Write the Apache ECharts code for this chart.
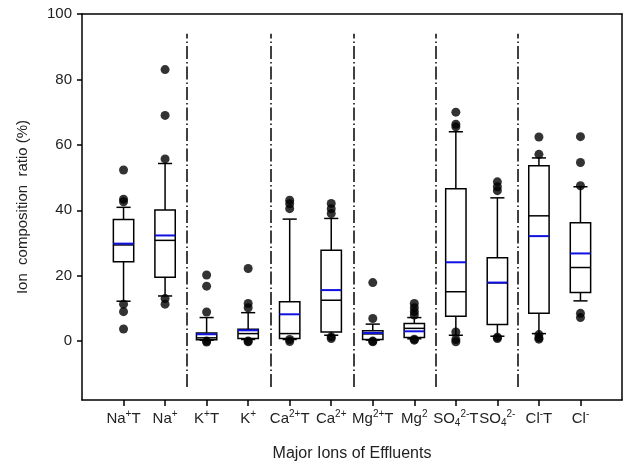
<!DOCTYPE html>
<html>
<head>
<meta charset="utf-8">
<script src="https://cdn.jsdelivr.net/npm/echarts@6/dist/echarts.min.js"></script>
<style>
  html, body { margin: 0; padding: 0; background: #fff; }
  #chart { width: 624px; height: 465px; }
</style>
</head>
<body>
<div id="chart"></div>
<script>
// categories (rich-text markup for superscripts / subscripts)
var ionLabels = [
    '{n|Na}{sup|+}{n|T}', '{n|Na}{sup|+}', '{n|K}{sup|+}{n|T}', '{n|K}{sup|+}',
    '{n|Ca}{sup|2+}{n|T}', '{n|Ca}{sup|2+}', '{n|Mg}{sup|2+}{n|T}', '{n|Mg}{sup|2}',
    '{n|SO}{sub|4}{sup|2-}{n|T}', '{n|SO}{sub|4}{sup|2-}', '{n|Cl}{sup|-}{n|T}', '{n|Cl}{sup|-}'
];
var yTicks = [0, 20, 40, 60, 80, 100];

// box statistics
var whiskerLow  = [12.2, 13.8, 0.3, 0.5, 0.5, 1.8, 0.3, 0.7, 1.8, 1.5, 2.3, 12.3];
var q1          = [24.3, 19.5, 0.4, 0.8, 0.8, 2.8, 0.5, 1.1, 7.6, 5.1, 8.5, 14.9];
var median      = [29.4, 30.8, 1.0, 2.3, 2.3, 12.5, 2.2, 3.9, 15.1, 17.8, 38.3, 22.5];
var q3          = [37.2, 40.1, 2.5, 3.6, 12.0, 27.8, 3.2, 5.4, 46.6, 25.5, 53.6, 36.2];
var whiskerHigh = [40.9, 54.3, 7.2, 8.7, 37.3, 37.5, 5.2, 7.2, 64.0, 43.8, 56.0, 47.2];
var mean        = [29.8, 32.3, 2.1, 3.3, 8.2, 15.6, 2.5, 3.0, 24.1, 17.9, 32.1, 26.8];
var outliers = [
    [52.3, 43.4, 42.6, 11.3, 9.0, 3.7],
    [83.0, 69.0, 55.7, 13.0, 11.3],
    [20.2, 16.8, 8.9, 0.0, -0.3],
    [22.2, 11.5, 10.2, 0.0, -0.2],
    [43.1, 42.0, 40.5, 0.5, -0.1],
    [42.1, 40.5, 39.0, 1.3, 0.8],
    [17.9, 6.9, 0.0, -0.2],
    [11.5, 10.2, 9.0, 8.0, 0.6, 0.3],
    [70.0, 66.3, 65.5, 2.8, 0.5, -0.2],
    [48.7, 47.2, 46.0, 1.2, 0.8],
    [62.4, 57.1, 2.0, 1.0, 0.6],
    [62.5, 54.6, 47.5, 8.5, 7.2]
];
// dash-dot separators between groups
var separatorX = [2.53, 4.54, 6.55, 8.52, 10.5];
var separatorSpan = [-14, 94];

var chart = echarts.init(document.getElementById('chart'));

var boxData = [];
var scatterData = [];
var xTicks = [];
for (var i = 0; i < ionLabels.length; i++) {
    xTicks.push(i + 1);
    boxData.push([i + 1, whiskerLow[i], q1[i], median[i], q3[i], whiskerHigh[i], mean[i]]);
    outliers[i].forEach(function (v) { scatterData.push([i + 1, v]); });
}
var sepData = separatorX.map(function (x) {
    return { coords: [[x, separatorSpan[0]], [x, separatorSpan[1]]] };
});

function renderBox(params, api) {
    var x = api.value(0);
    var pLow = api.coord([x, api.value(1)]);
    var pQ1 = api.coord([x, api.value(2)]);
    var pMed = api.coord([x, api.value(3)]);
    var pQ3 = api.coord([x, api.value(4)]);
    var pHigh = api.coord([x, api.value(5)]);
    var pMean = api.coord([x, api.value(6)]);
    var half = api.size([0.49, 0])[0] / 2;
    var cap = api.size([0.34, 0])[0] / 2;
    var cx = pQ1[0];
    var blk = { stroke: '#000', lineWidth: 1.5 };
    return {
        type: 'group',
        children: [
            { type: 'line', shape: { x1: cx, y1: pQ3[1], x2: cx, y2: pHigh[1] }, style: blk },
            { type: 'line', shape: { x1: cx - cap, y1: pHigh[1], x2: cx + cap, y2: pHigh[1] }, style: blk },
            { type: 'line', shape: { x1: cx, y1: pQ1[1], x2: cx, y2: pLow[1] }, style: blk },
            { type: 'line', shape: { x1: cx - cap, y1: pLow[1], x2: cx + cap, y2: pLow[1] }, style: blk },
            { type: 'rect', shape: { x: cx - half, y: pQ3[1], width: half * 2, height: pQ1[1] - pQ3[1] },
              style: { fill: '#fff', stroke: '#000', lineWidth: 1.5 } },
            { type: 'line', shape: { x1: cx - half, y1: pMed[1], x2: cx + half, y2: pMed[1] }, style: blk },
            { type: 'line', shape: { x1: cx - half, y1: pMean[1], x2: cx + half, y2: pMean[1] },
              style: { stroke: '#1010e0', lineWidth: 2 } }
        ]
    };
}

var font = 'Liberation Sans, Arial, sans-serif';
var frameLine = { show: true, onZero: false, lineStyle: { color: '#000', width: 1.5 } };

option = {
    animation: false,
    backgroundColor: '#fff',
    textStyle: { fontFamily: font },
    grid: { left: 82, right: 2, top: 14, bottom: 65, outerBoundsMode: 'none' },
    xAxis: [
        {
            type: 'value',
            min: 0,
            max: 13,
            axisLine: frameLine,
            axisTick: { show: true, customValues: xTicks, length: 6, lineStyle: { color: '#000', width: 1.5 } },
            axisLabel: {
                customValues: xTicks,
                margin: 9,
                formatter: function (v) { return ionLabels[v - 1] || ''; },
                rich: {
                    n: { fontSize: 15, color: '#222', fontFamily: font, verticalAlign: 'bottom', padding: [0, 0, 2, 0] },
                    sup: { fontSize: 10, color: '#222', fontFamily: font, verticalAlign: 'bottom', padding: [0, 0, 9, 0] },
                    sub: { fontSize: 10, color: '#222', fontFamily: font, verticalAlign: 'bottom', padding: [0, 0, 0, 0] }
                }
            },
            splitLine: { show: false },
            name: 'Major Ions of Effluents',
            nameLocation: 'middle',
            nameGap: 46,
            nameTextStyle: { fontSize: 16, color: '#222' }
        },
        {
            type: 'value', position: 'top', min: 0, max: 13,
            axisLine: frameLine, axisTick: { show: false }, axisLabel: { show: false }, splitLine: { show: false }
        }
    ],
    yAxis: [
        {
            type: 'value',
            min: -18,
            max: 100,
            axisLine: frameLine,
            axisTick: { show: true, customValues: yTicks, length: 5, lineStyle: { color: '#000', width: 1.5 } },
            axisLabel: { customValues: yTicks, fontSize: 15, color: '#222', margin: 10 },
            splitLine: { show: false },
            name: 'Ion  composition  ratio (%)',
            nameLocation: 'middle',
            nameGap: 52,
            nameTextStyle: { fontSize: 15, color: '#222' }
        },
        {
            type: 'value', position: 'right', min: -18, max: 100,
            axisLine: frameLine, axisTick: { show: false }, axisLabel: { show: false }, splitLine: { show: false }
        }
    ],
    series: [
        {
            type: 'lines',
            coordinateSystem: 'cartesian2d',
            data: sepData,
            silent: true,
            lineStyle: { color: '#000', width: 1.5, type: [13, 3, 1.5, 3], opacity: 1 },
            z: 1
        },
        {
            type: 'custom',
            renderItem: renderBox,
            data: boxData,
            encode: { x: 0, y: [1, 2, 3, 4, 5] },
            z: 2
        },
        {
            type: 'scatter',
            data: scatterData,
            symbol: 'circle',
            symbolSize: 9,
            itemStyle: { color: '#000' },
            z: 3
        }
    ]
};

chart.setOption(option);
</script>
</body>
</html>
